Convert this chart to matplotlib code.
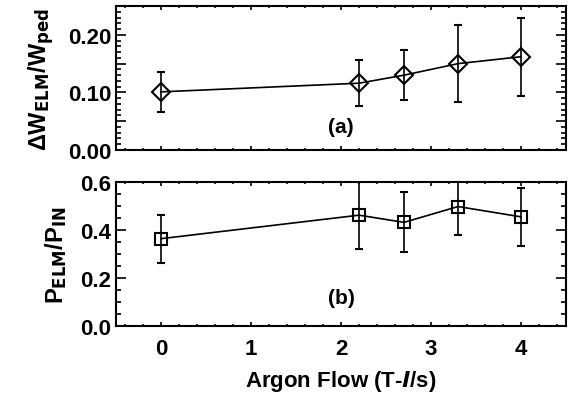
import matplotlib
matplotlib.use("Agg")
import matplotlib.pyplot as plt
from matplotlib.ticker import MultipleLocator, FuncFormatter

# Data
argon_flow = [0.0, 2.2, 2.7, 3.3, 4.0]
dw_ratio = [0.101, 0.116, 0.130, 0.150, 0.162]
dw_err = [0.035, 0.040, 0.043, 0.067, 0.068]
p_ratio = [0.364, 0.462, 0.432, 0.498, 0.455]
p_err = [0.100, 0.140, 0.125, 0.117, 0.120]

plt.rcParams['font.family'] = ['Liberation Sans', 'DejaVu Sans']
plt.rcParams['font.weight'] = 'bold'
plt.rcParams['mathtext.default'] = 'regular'

fig = plt.figure(figsize=(5.77, 4.02), dpi=100)
ax1 = fig.add_axes([0.201, 0.6244, 0.780, 0.358])
ax2 = fig.add_axes([0.201, 0.1866, 0.780, 0.358])


def style_axis(ax):
    for sp in ax.spines.values():
        sp.set_linewidth(1.5)
    ax.set_xlim(-0.5, 4.5)
    ax.xaxis.set_major_locator(MultipleLocator(1))
    ax.xaxis.set_minor_locator(MultipleLocator(0.2))
    ax.tick_params(axis='both', which='both', direction='in', top=True, right=True,
                   labelsize=16, width=1.2)
    ax.tick_params(axis='x', which='major', length=3)
    ax.tick_params(axis='x', which='minor', length=1.5)
    ax.tick_params(axis='y', which='major', length=7)
    ax.tick_params(axis='y', which='minor', length=3.5)
    ax.tick_params(axis='x', pad=9)


# (a) stored energy loss
ax1.errorbar(argon_flow, dw_ratio, yerr=dw_err, color='black', lw=1.2,
             marker='D', ms=9, mfc='none', mec='black', mew=1.5,
             elinewidth=1.2, capsize=3, capthick=1.2)
style_axis(ax1)
ax1.set_ylim(0, 0.25)
ax1.yaxis.set_major_locator(MultipleLocator(0.05))
ax1.yaxis.set_minor_locator(MultipleLocator(0.01))
ax1.yaxis.set_major_formatter(FuncFormatter(
    lambda v, p: f"{v:.2f}" if abs(round(v / 0.1) * 0.1 - v) < 1e-6 else ""))
ax1.tick_params(axis='x', labelbottom=False)
ax1.text(2.0, 0.04, "(a)", ha='center', va='center', fontsize=15, fontweight='bold')
ax1.set_ylabel(r"$\Delta$W$_{\mathbf{ELM}}$/W$_{\mathbf{ped}}$", fontsize=17,
               fontweight='bold', labelpad=8)

# (b) ELM power fraction
ax2.errorbar(argon_flow, p_ratio, yerr=p_err, color='black', lw=1.2,
             marker='s', ms=8, mfc='none', mec='black', mew=1.5,
             elinewidth=1.2, capsize=3, capthick=1.2)
style_axis(ax2)
ax2.set_ylim(0, 0.6)
ax2.yaxis.set_major_locator(MultipleLocator(0.2))
ax2.yaxis.set_minor_locator(MultipleLocator(0.05))
ax2.yaxis.set_major_formatter(FuncFormatter(lambda v, p: f"{v:.1f}"))
ax2.text(2.0, 0.12, "(b)", ha='center', va='center', fontsize=15, fontweight='bold')
ax2.set_ylabel(r"P$_{\mathbf{ELM}}$/P$_{\mathbf{IN}}$", fontsize=17,
               fontweight='bold', labelpad=8)
ax2.set_xlabel(r"Argon Flow (T-$\mathit{l}$/s)", fontsize=16, fontweight='bold', labelpad=6)

fig.savefig("out.png", dpi=100)
